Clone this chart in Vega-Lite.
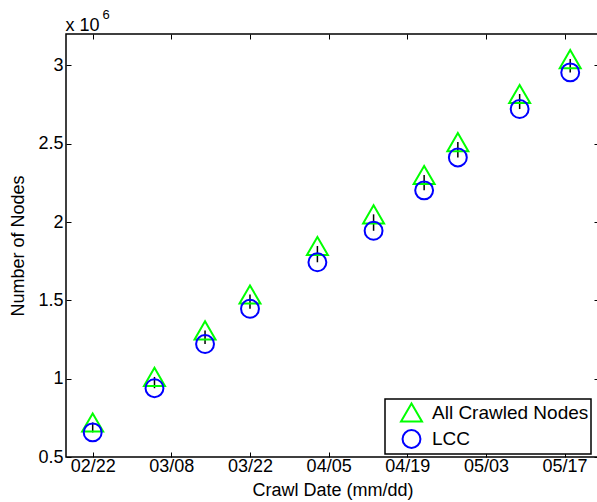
{
  "$schema": "https://vega.github.io/schema/vega-lite/v6.json",
  "autosize": {"type": "none"},
  "padding": {"left": 66, "top": 34, "right": 0, "bottom": 45},
  "width": 533,
  "height": 423,
  "config": {
    "font": "Liberation Sans",
    "view": {"stroke": "black", "strokeWidth": 1.5},
    "axis": {
      "grid": false, "domain": false, "tickColor": "black", "tickWidth": 1, "tickSize": -5,
      "labelColor": "black", "labelFontSize": 18, "labelFont": "Liberation Sans",
      "titleColor": "black", "titleFontSize": 18, "titleFontWeight": "normal", "titleFont": "Liberation Sans"
    },
    "legend": {
      "labelFont": "Liberation Sans", "labelFontSize": 19, "labelColor": "black",
      "fillColor": "white", "strokeColor": "black", "strokeWidth": 1.5,
      "padding": 2, "symbolOffset": 13, "labelOffset": 9, "rowPadding": 0,
      "symbolStrokeWidth": 2
    }
  },
  "data": {
    "values": [
      {"date": "2007-02-22", "all": 0.72, "lcc": 0.657},
      {"date": "2007-03-05", "all": 1.011, "lcc": 0.939},
      {"date": "2007-03-14", "all": 1.308, "lcc": 1.221},
      {"date": "2007-03-22", "all": 1.537, "lcc": 1.446},
      {"date": "2007-04-03", "all": 1.847, "lcc": 1.743},
      {"date": "2007-04-13", "all": 2.049, "lcc": 1.944},
      {"date": "2007-04-22", "all": 2.3, "lcc": 2.202},
      {"date": "2007-04-28", "all": 2.51, "lcc": 2.412},
      {"date": "2007-05-09", "all": 2.817, "lcc": 2.721},
      {"date": "2007-05-18", "all": 3.04, "lcc": 2.955}
    ]
  },
  "resolve": {"axis": {"x": "independent", "y": "independent"}},
  "layer": [
    {
      "mark": {"type": "rule", "color": "black", "strokeWidth": 1.5},
      "encoding": {
        "x": {
          "field": "date", "type": "temporal",
          "scale": {"type": "utc", "domain": [{"year": 2007, "month": 2, "date": 17, "hours": 6, "utc": true}, {"year": 2007, "month": 5, "date": 23, "hours": 3, "utc": true}]},
          "axis": {
            "orient": "bottom", "format": "%m/%d", "title": "Crawl Date (mm/dd)", "labelPadding": 5, "titlePadding": 6,
            "values": [
              {"year": 2007, "month": 2, "date": 22, "utc": true},
              {"year": 2007, "month": 3, "date": 8, "utc": true},
              {"year": 2007, "month": 3, "date": 22, "utc": true},
              {"year": 2007, "month": 4, "date": 5, "utc": true},
              {"year": 2007, "month": 4, "date": 19, "utc": true},
              {"year": 2007, "month": 5, "date": 3, "utc": true},
              {"year": 2007, "month": 5, "date": 17, "utc": true}
            ]
          }
        },
        "y": {
          "field": "lcc", "type": "quantitative",
          "scale": {"domain": [0.5, 3.2], "nice": false, "zero": false},
          "axis": {"orient": "left", "title": "Number of Nodes", "format": ".1~f", "values": [0.5, 1, 1.5, 2, 2.5, 3], "labelPadding": 8, "titlePadding": 10}
        },
        "y2": {"field": "all"}
      }
    },
    {
      "transform": [{"fold": ["all", "lcc"], "as": ["series", "value"]}],
      "mark": {"type": "point", "filled": false, "strokeWidth": 2, "opacity": 1},
      "encoding": {
        "x": {
          "field": "date", "type": "temporal",
          "scale": {"type": "utc", "domain": [{"year": 2007, "month": 2, "date": 17, "hours": 6, "utc": true}, {"year": 2007, "month": 5, "date": 23, "hours": 3, "utc": true}]},
          "axis": {
            "orient": "top", "labels": false, "title": "x 10",
            "titleX": -1, "titleY": -4, "titleAlign": "left", "titleBaseline": "alphabetic", "titleAngle": 0,
            "values": [
              {"year": 2007, "month": 2, "date": 22, "utc": true},
              {"year": 2007, "month": 3, "date": 8, "utc": true},
              {"year": 2007, "month": 3, "date": 22, "utc": true},
              {"year": 2007, "month": 4, "date": 5, "utc": true},
              {"year": 2007, "month": 4, "date": 19, "utc": true},
              {"year": 2007, "month": 5, "date": 3, "utc": true},
              {"year": 2007, "month": 5, "date": 17, "utc": true}
            ]
          }
        },
        "y": {
          "field": "value", "type": "quantitative",
          "scale": {"domain": [0.5, 3.2], "nice": false, "zero": false},
          "axis": {
            "orient": "right", "labels": false, "title": "6", "values": [0.5, 1, 1.5, 2, 2.5, 3],
            "titleFontSize": 13, "titleX": -497, "titleY": -16, "titleAlign": "left", "titleBaseline": "alphabetic", "titleAngle": 0
          }
        },
        "shape": {
          "field": "series", "type": "nominal", "scale": {"domain": ["all", "lcc"], "range": ["triangle-up", "circle"]},
          "legend": {"orient": "none", "legendX": 319, "legendY": 365, "title": null, "labelExpr": "datum.label == 'all' ? 'All Crawled Nodes' : 'LCC'"}
        },
        "color": {
          "field": "series", "type": "nominal", "scale": {"domain": ["all", "lcc"], "range": ["#00ff00", "#0000ff"]},
          "legend": {"orient": "none", "legendX": 319, "legendY": 365, "title": null, "labelExpr": "datum.label == 'all' ? 'All Crawled Nodes' : 'LCC'"}
        },
        "size": {
          "field": "series", "type": "nominal", "scale": {"domain": ["all", "lcc"], "range": [440, 320]},
          "legend": {"orient": "none", "legendX": 319, "legendY": 365, "title": null, "labelExpr": "datum.label == 'all' ? 'All Crawled Nodes' : 'LCC'"}
        }
      }
    }
  ]
}
